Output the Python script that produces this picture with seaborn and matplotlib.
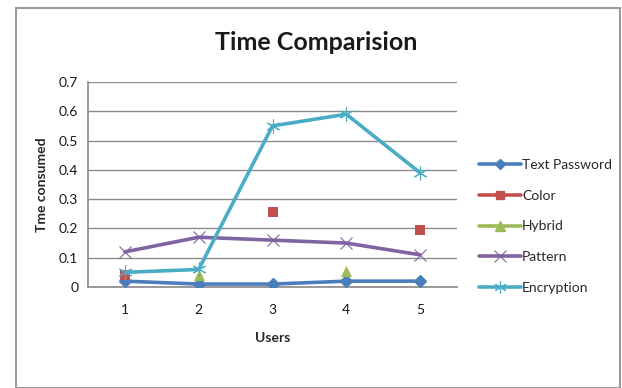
import numpy as np
import pandas as pd
import matplotlib
matplotlib.use("Agg")
import matplotlib.pyplot as plt
from matplotlib.lines import Line2D
from matplotlib.patches import Rectangle
import seaborn as sns

users = [1, 2, 3, 4, 5]
text_password = [0.02, 0.01, 0.01, 0.02, 0.02]
color = [0.04, np.nan, 0.255, np.nan, 0.195]
hybrid = [np.nan, 0.04, np.nan, 0.055, np.nan]
pattern = [0.12, 0.17, 0.16, 0.15, 0.11]
encryption = [0.05, 0.06, 0.55, 0.59, 0.39]
y_ticks = [0, 0.1, 0.2, 0.3, 0.4, 0.5, 0.6, 0.7]

series = {
    "Text Password": text_password,
    "Color": color,
    "Hybrid": hybrid,
    "Pattern": pattern,
    "Encryption": encryption,
}
styles = {
    "Text Password": dict(color="#4A7EBB", marker="D", ms=6, mew=1, connected=True),
    "Color": dict(color="#C0504D", marker="s", ms=7, mew=1, connected=False),
    "Hybrid": dict(color="#9BBB59", marker="^", ms=8, mew=1, connected=False),
    "Pattern": dict(color="#8064A2", marker="x", ms=9, mew=0.8, connected=True),
    "Encryption": dict(color="#4BACC6", marker=(6, 2, 0), ms=10, mew=0.8, connected=True),
}

sns.set_theme(style="white")
plt.rcParams["font.family"] = ["Lato", "DejaVu Sans"]

fig = plt.figure(figsize=(6.22, 3.88), dpi=100)
ax = fig.add_axes([88 / 622, 1 - 287 / 388, (457 - 88) / 622, (287 - 82) / 388])

frames = []
for name, vals in series.items():
    frames.append(pd.DataFrame({"Users": users, "value": vals, "series": name}))
df = pd.concat(frames, ignore_index=True)

handles = []
for name in series:
    st = styles[name]
    sub = df[df["series"] == name]
    if st["connected"]:
        sns.lineplot(data=sub, x="Users", y="value", ax=ax, color=st["color"],
                     linewidth=2.6, marker=st["marker"], markersize=st["ms"],
                     markeredgewidth=st["mew"], markeredgecolor=st["color"],
                     zorder=3)
    else:
        pts = sub.dropna()
        sns.scatterplot(data=pts, x="Users", y="value", ax=ax, color=st["color"],
                        marker=st["marker"], s=st["ms"] ** 2, linewidth=0,
                        zorder=3)
    handles.append(Line2D([0], [0], color=st["color"], lw=2.6, marker=st["marker"],
                          markersize=st["ms"] * 0.9, markeredgewidth=st["mew"],
                          markeredgecolor=st["color"], label=name))

ax.set_xlim(0.5, 5.5)
ax.set_ylim(0, 0.7)
ax.set_xticks(users)
ax.set_xticklabels([str(u) for u in users])
ax.set_yticks(y_ticks)
ax.set_yticklabels(["0" if t == 0 else f"{t:.1f}" for t in y_ticks])
ax.yaxis.grid(True, color="#8C8C8C", linewidth=1)
ax.set_axisbelow(True)
for side in ["top", "right"]:
    ax.spines[side].set_visible(False)
ax.spines["left"].set_color("#8C8C8C")
ax.spines["bottom"].set_color("#8C8C8C")
ax.tick_params(axis="both", labelsize=10, colors="#1A1A1A", length=0, pad=12)
ax.tick_params(axis="y", pad=7)

ax.set_xlabel("Users", fontsize=10, fontweight="bold", labelpad=12)
ax.set_ylabel("Tme consumed", fontsize=10, fontweight="bold", labelpad=8)

fig.text(316 / 622, 1 - 42 / 388, "Time Comparision", ha="center", va="center",
         fontsize=18, fontweight="bold", color="#1A1A1A")

leg = fig.legend(handles=handles, loc="upper left",
                 bbox_to_anchor=(472 / 622, 1 - 152 / 388), frameon=False,
                 fontsize=10, handlelength=3.0, handletextpad=0.1,
                 labelspacing=1.35, borderpad=0)

fig.patches.append(Rectangle((15.5 / 622, 0), (620 - 15.5) / 622, 1 - 7.5 / 388,
                             transform=fig.transFigure, fill=False,
                             edgecolor="#9A9A9A", linewidth=1.5))

fig.savefig("out.png", dpi=100)
